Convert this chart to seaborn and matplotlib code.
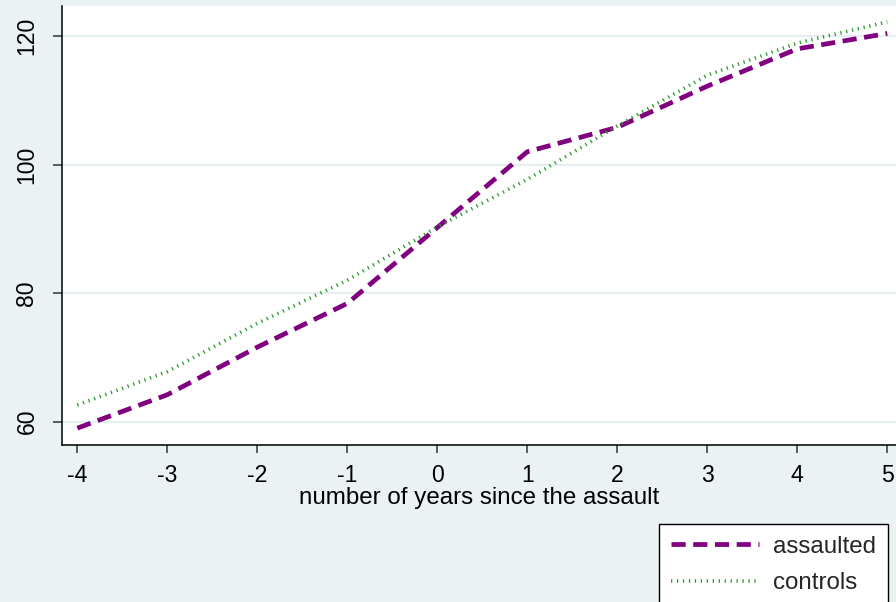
import matplotlib
matplotlib.use("Agg")
import matplotlib.pyplot as plt
import seaborn as sns
import pandas as pd

# Mean outcome by year relative to the assault
years = [-4, -3, -2, -1, 0, 1, 2, 3, 4, 5]
assaulted = [59.0, 64.2, 71.6, 78.4, 90.2, 102.0, 105.8, 112.2, 118.0, 120.4]
controls = [62.6, 67.8, 75.3, 82.0, 90.3, 97.7, 106.0, 113.9, 118.9, 122.2]
y_ticks = [60, 80, 100, 120]
x_ticks = [-4, -3, -2, -1, 0, 1, 2, 3, 4, 5]

BG = "#EAF2F3"
PURPLE = "#800080"
GREEN = "#2A9A2A"
TICK_FS = 16.6
TEXT_FS = 17.4

sns.set_theme(style="white")
plt.rcParams["font.family"] = ["Liberation Sans", "DejaVu Sans"]

fig = plt.figure(figsize=(8.96, 6.02), dpi=100, facecolor=BG)
ax = fig.add_axes([62 / 896, 1 - 445 / 602, (896 - 62) / 896, (445 - 6) / 602])
ax.set_facecolor("white")

df_a = pd.DataFrame({"year": years, "value": assaulted})
df_c = pd.DataFrame({"year": years, "value": controls})

sns.lineplot(data=df_a, x="year", y="value", ax=ax, color=PURPLE,
             linewidth=3.4, label="assaulted")
sns.lineplot(data=df_c, x="year", y="value", ax=ax, color=GREEN,
             linewidth=2.6, label="controls")
ax.lines[0].set_dashes((3.0, 1.6))
ax.lines[1].set_dashes((0.35, 1.3))
for ln in ax.lines[:2]:
    ln.set_dash_capstyle("butt")

ax.set_xlim(-4.17, 5.097)
ax.set_ylim(56.38, 124.67)

for v in y_ticks:
    ax.axhline(v, color="#E6EEF0", linewidth=1.6, zorder=0)

ax.set_xticks(x_ticks)
ax.set_xticklabels([str(t) for t in x_ticks])
ax.set_yticks(y_ticks)
ax.set_yticklabels([str(t) for t in y_ticks], rotation=90, va="center")
ax.tick_params(axis="x", length=5.8, width=1.1, color="#333333", pad=8,
               labelsize=TICK_FS, labelcolor="black", bottom=True)
ax.tick_params(axis="y", length=6.5, width=1.1, color="#333333", pad=10.5,
               labelsize=TICK_FS, labelcolor="black", left=True)

for side in ["top", "right"]:
    ax.spines[side].set_visible(False)
for side in ["left", "bottom"]:
    ax.spines[side].set_color("black")
    ax.spines[side].set_linewidth(1.1)

ax.set_xlabel("number of years since the assault", fontsize=TEXT_FS,
              color="black", labelpad=0)
ax.set_ylabel("")

handles, labels = ax.get_legend_handles_labels()
ax.get_legend().remove()
leg = fig.legend(handles, labels, loc="upper left",
                 bbox_to_anchor=(659 / 896, 1 - 524 / 602),
                 frameon=True, fancybox=False, fontsize=TEXT_FS,
                 handlelength=3.65, handletextpad=0.6, borderpad=0.48,
                 labelspacing=0.6, borderaxespad=0)
leg.get_frame().set_edgecolor("black")
leg.get_frame().set_linewidth(1.0)
leg.get_frame().set_facecolor("white")
leg.get_frame().set_alpha(1)

fig.savefig("out.png", dpi=100, facecolor=BG)
